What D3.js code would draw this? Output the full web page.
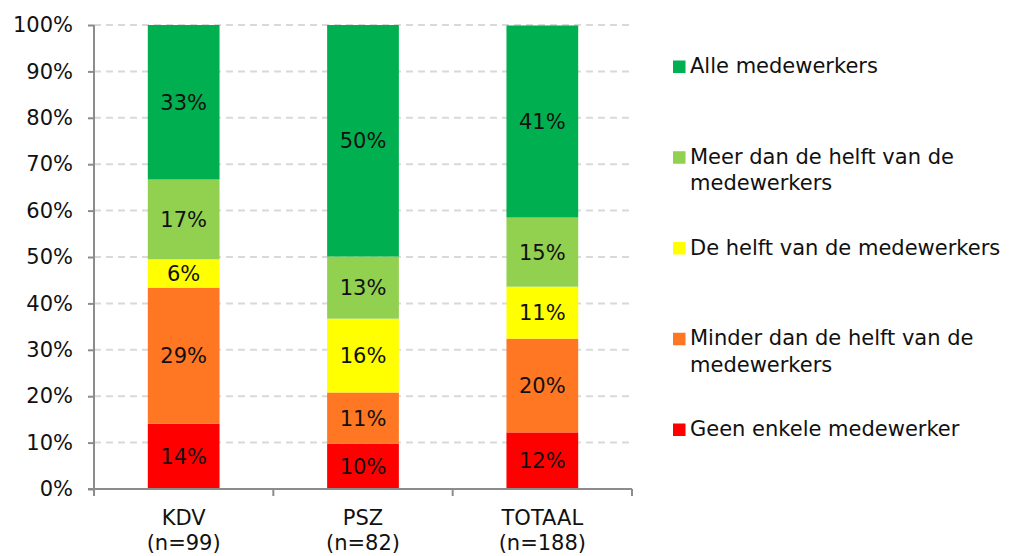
<!DOCTYPE html>
<html><head><meta charset="utf-8">
<script src="https://cdn.jsdelivr.net/npm/d3@7"></script>
<style>
body{margin:0;background:#fff;}
text{font-family:Verdana,"DejaVu Sans",sans-serif;fill:#111;}
</style></head>
<body><svg id="c" width="1010" height="556"></svg>
<script>
const categories = ["KDV", "PSZ", "TOTAAL"];
const categorySub = ["(n=99)", "(n=82)", "(n=188)"];
const seriesNames = ["Geen enkele medewerker", "Minder dan de helft van de medewerkers", "De helft van de medewerkers", "Meer dan de helft van de medewerkers", "Alle medewerkers"];
const geenEnkele = [14.1, 9.8, 12.2];
const minderDanHelft = [29.3, 11.0, 20.2];
const deHelft = [6.1, 15.9, 11.2];
const meerDanHelft = [17.2, 13.4, 14.9];
const alle = [33.3, 49.9, 41.4];
const seriesColors = ["#FF0000", "#FF7722", "#FFFF00", "#92D050", "#00B050"];
const yTicks = [0,10,20,30,40,50,60,70,80,90,100];
const legendLines = [["Alle medewerkers"],["Meer dan de helft van de","medewerkers"],["De helft van de medewerkers"],["Minder dan de helft van de","medewerkers"],["Geen enkele medewerker"]];
const legendColors = ["#00B050","#92D050","#FFFF00","#FF7722","#FF0000"];

(function(){
const allSeries = [geenEnkele, minderDanHelft, deHelft, meerDanHelft, alle];
const rows = categories.map((c,i)=>{const o={cat:c}; seriesNames.forEach((s,j)=>o[s]=allSeries[j][i]); return o;});
const stacked = d3.stack().keys(seriesNames)(rows);

const svg = d3.select("#c");
const pLeft=94, pRight=632, pTop=25, pBottom=489;
const fs = 21;
const x = d3.scaleBand().domain(categories).range([pLeft,pRight]).paddingInner(0.6).paddingOuter(0.3);
const y = d3.scaleLinear().domain([0,100]).range([pBottom,pTop]);

// gridlines
svg.append("g").selectAll("line").data(yTicks.filter(t=>t>0)).join("line")
  .attr("x1",pLeft).attr("x2",pRight).attr("y1",d=>y(d)).attr("y2",d=>y(d))
  .attr("stroke","#d9d9d9").attr("stroke-width",2).attr("stroke-dasharray","7,5");

// bars
const g = svg.append("g");
stacked.forEach((layer,j)=>{
  g.append("g").selectAll("rect").data(layer).join("rect")
    .attr("x",d=>x(d.data.cat)).attr("width",x.bandwidth())
    .attr("y",d=>y(Math.min(100,d[1]))).attr("height",d=>y(d[0])-y(Math.min(100,d[1])))
    .attr("fill",seriesColors[j]);
});
stacked.forEach((layer,j)=>{
  g.append("g").selectAll("text").data(layer).join("text")
    .attr("x",d=>x(d.data.cat)+x.bandwidth()/2)
    .attr("y",d=>(y(d[0])+y(d[1]))/2).attr("dy","0.36em")
    .attr("text-anchor","middle").style("font-size",fs+"px")
    .text(d=>Math.round(d[1]-d[0])+"%");
});

// y axis
const yAxis = d3.axisLeft(y).tickValues(yTicks).tickFormat(d=>d+"%").tickSize(6).tickPadding(15);
const ya = svg.append("g").attr("transform",`translate(${pLeft},0)`).call(yAxis);
ya.select(".domain").attr("stroke","#8c8c8c").attr("stroke-width",2).attr("d",`M0,${pTop}V${pBottom}`);
ya.selectAll(".tick line").attr("stroke","#8c8c8c").attr("stroke-width",2);
ya.selectAll(".tick text").style("font-size",fs+"px").attr("fill","#111").style("font-family",'Verdana,"DejaVu Sans",sans-serif');

// x axis
const xa = svg.append("g").attr("transform",`translate(0,${pBottom})`);
xa.append("line").attr("x1",pLeft-6).attr("x2",pRight).attr("y1",0).attr("y2",0).attr("stroke","#8c8c8c").attr("stroke-width",2);
const step = x.step();
const bounds = [0,1,2,3].map(i=>pLeft + i*step);
xa.selectAll(".tk").data(bounds).join("line").attr("class","tk")
  .attr("x1",d=>d).attr("x2",d=>d).attr("y1",0).attr("y2",7).attr("stroke","#8c8c8c").attr("stroke-width",2);
categories.forEach((c,i)=>{
  const cx = x(c)+x.bandwidth()/2;
  xa.append("text").attr("x",cx).attr("y",36).attr("text-anchor","middle").style("font-size",fs+"px").text(c);
  xa.append("text").attr("x",cx).attr("y",61).attr("text-anchor","middle").style("font-size",fs+"px").text(categorySub[i]);
});

// legend
const lg = svg.append("g");
legendLines.forEach((lines,i)=>{
  const by = 73 + i*90.75;
  lg.append("rect").attr("x",673).attr("y",by-12.5).attr("width",12.5).attr("height",12.5).attr("fill",legendColors[i]);
  lines.forEach((t,k)=>{
    lg.append("text").attr("x",690).attr("y",by+k*26.5).style("font-size",fs+"px").text(t);
  });
});
})();
</script></body></html>
